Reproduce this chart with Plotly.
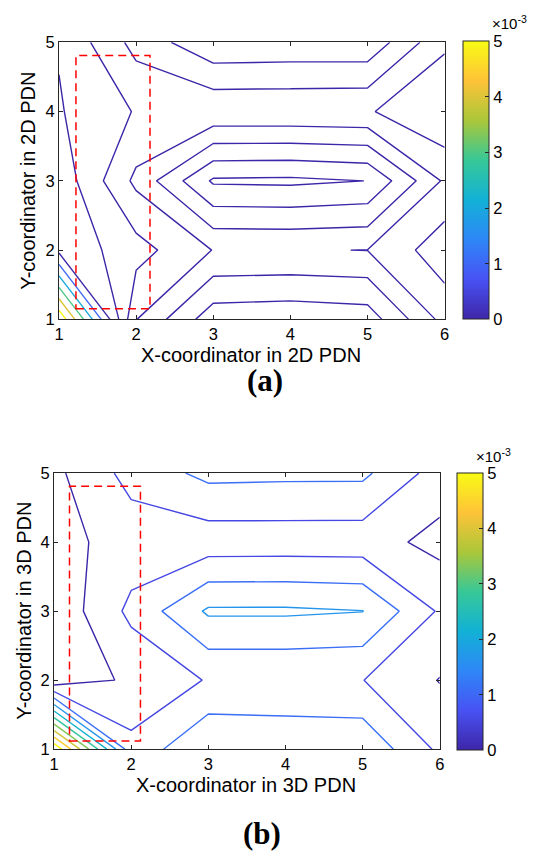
import plotly.graph_objects as go

# ---------------- data ----------------
x_vals = [1, 2, 3, 4, 5, 6]
y_vals = [1, 2, 3, 4, 5]

# (a) 2D PDN, values in units of 1e-3 (rows: y = 1..5, cols: x = 1..6)
z_2d = [
    [2.900, -1.485, -2.800, -2.855, -2.770, -1.325],
    [-0.125, -0.800, -1.515, -1.5285, -1.492, -0.700],
    [-0.165, -1.615, -3.075, -3.100, -2.995, -1.420],
    [-0.460, -1.035, -1.080, -1.075, -1.050, -0.550],
    [-0.535, -1.670, -2.395, -2.365, -2.370, -1.090],
]
# (b) 3D PDN, values in units of 1e-3
z_3d = [
    [5.425, 1.150, 1.985, 1.930, 1.900, 0.900],
    [0.130, 0.600, 1.035, 1.035, 1.010, 0.480],
    [0.120, 1.120, 2.075, 2.075, 2.010, 0.935],
    [0.320, 0.720, 0.715, 0.725, 0.720, 0.345],
    [0.380, 1.175, 1.635, 1.610, 1.605, 0.775],
]
scale = 1e-3
levels_2d = (-3.0, 2.5, 0.5)   # start, end, step (x1e-3)
levels_3d = (0.5, 5.0, 0.5)

cbar_ticks = [0, 1, 2, 3, 4, 5]
x_ticks = [1, 2, 3, 4, 5, 6]
y_ticks = [1, 2, 3, 4, 5]

rect_2d = [1.22, 2.18, 1.155, 4.81]   # x0, x1, y0, y1
rect_3d = [1.20, 2.12, 1.12, 4.81]

xlabel_a = "X-coordinator in 2D PDN"
ylabel_a = "Y-coordinator in 2D PDN"
xlabel_b = "X-coordinator in 3D PDN"
ylabel_b = "Y-coordinator in 3D PDN"

parula = [
    [0.0, "rgb(62,38,168)"],
    [1/7, "rgb(72,82,244)"],
    [2/7, "rgb(46,135,247)"],
    [3/7, "rgb(18,177,214)"],
    [4/7, "rgb(55,200,151)"],
    [5/7, "rgb(171,199,57)"],
    [6/7, "rgb(254,195,56)"],
    [1.0, "rgb(249,251,21)"],
]

W, H = 537, 861
FONT = "Liberation Sans, Arial, Helvetica, sans-serif"
SERIF = "Liberation Serif, Times New Roman, serif"
AX = "#262626"
TICK_SIZE = 16.5
LABEL_SIZE = 20

def px(xp):
    return xp / W

def py(yp):
    return 1 - yp / H

fig = go.Figure()

def add_panel(z, levels, xa, ya, cb_left, cb_top, cb_bot):
    zz = [[v * scale for v in row] for row in z]
    fig.add_trace(go.Contour(
        x=x_vals, y=y_vals, z=zz,
        xaxis=xa, yaxis=ya,
        colorscale=parula, zmin=0, zmax=5e-3, zauto=False,
        autocontour=False,
        contours=dict(start=levels[0] * scale, end=levels[1] * scale + 1e-9,
                      size=levels[2] * scale, coloring="lines"),
        line=dict(width=1.4, smoothing=0),
        showscale=False, hoverinfo="skip",
    ))
    fig.add_trace(go.Scatter(
        x=[None], y=[None], xaxis=xa, yaxis=ya, mode="markers",
        marker=dict(color=[0], colorscale=parula, cmin=0, cmax=5e-3,
                    showscale=True,
                    colorbar=dict(
                        thickness=26, thicknessmode="pixels",
                        len=(cb_bot - cb_top) / H, lenmode="fraction",
                        x=px(cb_left), xanchor="left", xpad=0,
                        y=py((cb_top + cb_bot) / 2), yanchor="middle", ypad=0,
                        outlinewidth=1, outlinecolor=AX,
                        tickvals=[t * scale for t in cbar_ticks],
                        ticktext=[str(t) for t in cbar_ticks],
                        ticks="inside", ticklen=4, tickcolor=AX,
                        tickfont=dict(family=FONT, size=TICK_SIZE, color="#000"),
                    )),
        showlegend=False, hoverinfo="skip",
    ))

add_panel(z_2d, levels_2d, "x", "y", 467, 33, 317)
add_panel(z_3d, levels_3d, "x2", "y2", 461, 474, 757)

axis_common = dict(
    showline=True, mirror="ticks", ticks="inside", ticklen=4,
    linecolor=AX, linewidth=1, tickcolor=AX, showgrid=False, zeroline=False,
    tickfont=dict(family=FONT, size=TICK_SIZE, color="#000"),
)

fig.update_layout(
    width=W, height=H, margin=dict(l=0, r=0, t=0, b=0),
    paper_bgcolor="white", plot_bgcolor="white", showlegend=False,
    xaxis=dict(domain=[px(55), px(448)], range=[1, 6], tickvals=x_ticks, anchor="y", **axis_common),
    yaxis=dict(domain=[py(317), py(34)], range=[1, 5], tickvals=y_ticks, anchor="x", **axis_common),
    xaxis2=dict(domain=[px(50), px(443)], range=[1, 6], tickvals=x_ticks, anchor="y2", **axis_common),
    yaxis2=dict(domain=[py(756), py(474)], range=[1, 5], tickvals=y_ticks, anchor="x2", **axis_common),
)

for r, xr, yr in [(rect_2d, "x", "y"), (rect_3d, "x2", "y2")]:
    fig.add_shape(type="rect", xref=xr, yref=yr, x0=r[0], x1=r[1], y0=r[2], y1=r[3],
                  line=dict(color="#ff0000", width=1.5, dash="8px,5px"))

def ann(text, x, y, size=LABEL_SIZE, angle=0, xanchor="center", family=FONT, bold=False):
    fig.add_annotation(
        text=f"<b>{text}</b>" if bold else text,
        xref="paper", yref="paper", x=px(x), y=py(y),
        xanchor=xanchor, yanchor="middle", showarrow=False, textangle=angle,
        font=dict(family=family, size=size, color="#000"),
    )

ann(xlabel_a, 251, 353)
ann(ylabel_a, 24, 176, angle=-90)
ann(xlabel_b, 246, 793)
ann(ylabel_b, 19, 615, angle=-90)
ann("(a)", 265, 379, size=31, family=SERIF, bold=True)
ann("(b)", 262, 842, size=31, family=SERIF, bold=True)
ann("×10<sup>-3</sup>", 494, 14, size=15, xanchor="left")
ann("×10<sup>-3</sup>", 478, 456, size=15, xanchor="left")

fig.write_html("out.html")
